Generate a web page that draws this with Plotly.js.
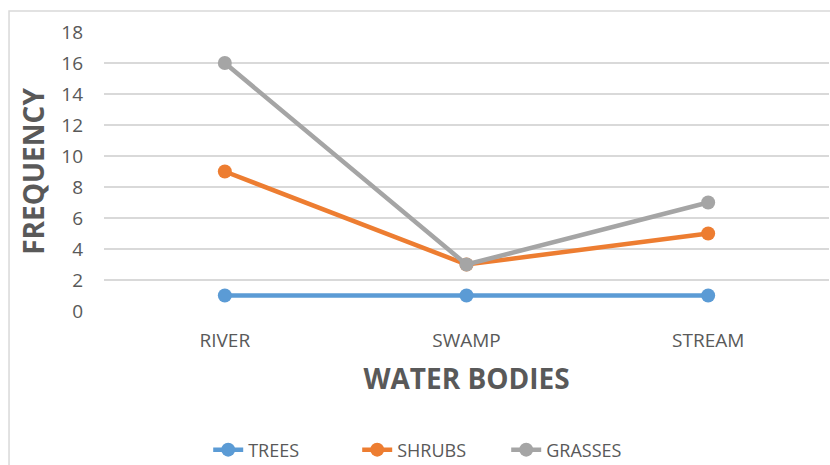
<!DOCTYPE html>
<html>
<head>
<meta charset="utf-8">
<script src="https://cdn.plot.ly/plotly-3.0.1.min.js"></script>
<style>
  html, body { margin: 0; padding: 0; background: #fff; }
  #myDiv { width: 830px; height: 465px; }
</style>
</head>
<body>
<div id="myDiv"></div>
<script>
// Chart values
const categories = ['RIVER', 'SWAMP', 'STREAM'];
const trees = [1, 1, 1];
const shrubs = [9, 3, 5];
const grasses = [16, 3, 7];
const yTicks = [0, 2, 4, 6, 8, 10, 12, 14, 16, 18];

const textColor = '#595959';

function series(name, values, color) {
  return {
    x: categories,
    y: values,
    type: 'scatter',
    mode: 'lines+markers',
    name: name,
    line: { color: color, width: 4.5 },
    marker: { color: color, size: 14 },
  };
}

const data = [
  series('TREES', trees, '#5B9BD5'),
  series('SHRUBS', shrubs, '#ED7D31'),
  series('GRASSES', grasses, '#A5A5A5'),
];

const layout = {
  width: 830,
  height: 465,
  margin: { l: 104, r: 1, t: 32, b: 154, autoexpand: false },
  paper_bgcolor: '#ffffff',
  plot_bgcolor: '#ffffff',
  font: { family: 'Open Sans, sans-serif', color: textColor, size: 18 },
  xaxis: {
    type: 'category',
    range: [-0.5, 2.5],
    automargin: false,
    showgrid: false,
    zeroline: false,
    showline: false,
    ticks: '',
    ticklabelstandoff: 16,
    tickfont: { size: 19, color: textColor },
    title: {
      text: 'WATER BODIES',
      font: { size: 28, color: textColor, weight: 'bold' },
      standoff: 17,
    },
  },
  yaxis: {
    range: [0, 18],
    tickvals: yTicks,
    automargin: false,
    showgrid: true,
    gridcolor: '#d9d9d9',
    gridwidth: 1.3,
    zeroline: false,
    showline: false,
    ticks: '',
    ticklabelstandoff: 20,
    tickfont: { size: 19, color: textColor },
    title: {
      text: 'FREQUENCY',
      font: { size: 28, color: textColor, weight: 'bold' },
      standoff: 8,
    },
  },
  showlegend: true,
  legend: {
    orientation: 'h',
    x: 0.452,
    xanchor: 'center',
    y: -0.498,
    yanchor: 'middle',
    font: { size: 18, color: textColor },
    entrywidth: 104,
    entrywidthmode: 'pixels',
  },
  shapes: [
    {
      type: 'rect',
      xref: 'paper',
      yref: 'paper',
      x0: -0.131,
      x1: 1.2,
      y0: -1,
      y1: 1.0753,
      line: { color: '#d9d9d9', width: 1.5 },
      layer: 'below',
    },
  ],
};

Plotly.newPlot('myDiv', data, layout, { displayModeBar: false, staticPlot: true });
</script>
</body>
</html>
